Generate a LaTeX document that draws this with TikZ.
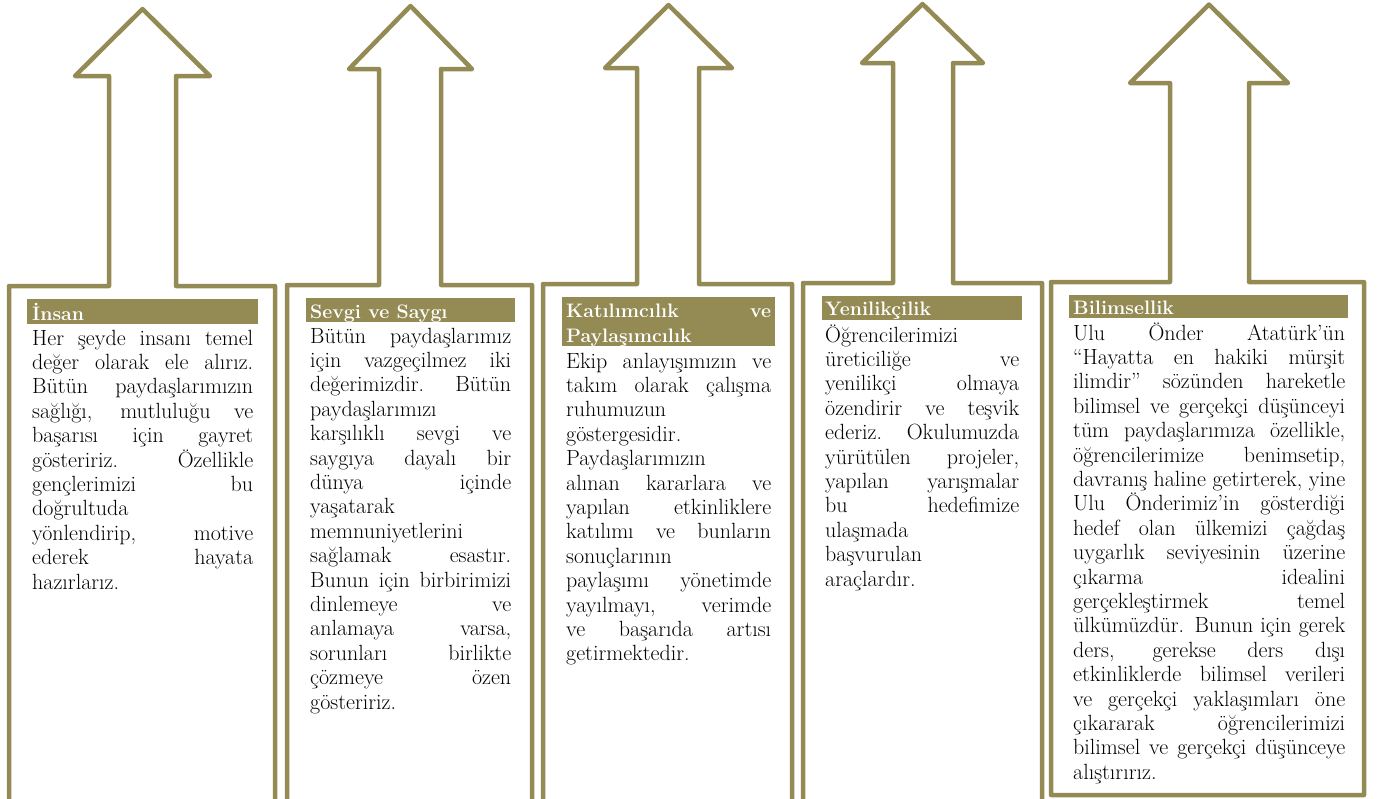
\documentclass[tikz,border=0pt]{standalone}
\usepackage{xcolor}
\definecolor{arrowolive}{HTML}{948A54}
\tikzset{
  arrowshape/.style={draw=arrowolive, line width=4.5pt, line join=round, line cap=round},
  titlebar/.style={fill=arrowolive},
  body/.style={anchor=base west, inner sep=0pt, text=black, font=\fontsize{22}{24.4}\selectfont},
  ttl/.style={anchor=base west, inner sep=0pt, text=white, font=\bfseries\fontsize{19.5}{25}\selectfont}
}
\newcommand\jpar[2]{\parbox[t]{#1}{\tolerance=10000\hbadness=10000\hyphenpenalty=10000\exhyphenpenalty=10000\parindent=0pt\relax #2}}
\begin{document}
\begin{tikzpicture}[x=1pt,y=-1pt]
\useasboundingbox (0,0) rectangle (1384,798);
\clip (0,0) rectangle (1384,798);
% arrows
\draw[arrowshape] (9,812) -- (9,286) -- (109,286) -- (109,76) -- (75,76) -- (142.5,9) -- (210,76) -- (176,76) -- (176,286) -- (275,286) -- (275,812);
\draw[arrowshape] (287,812) -- (287,285) -- (379,285) -- (379,69) -- (349,69) -- (410.5,6) -- (472,69) -- (441,69) -- (441,285) -- (532,285) -- (532,812);
\draw[arrowshape] (543,812) -- (543,284) -- (637,284) -- (637,68) -- (605,68) -- (668.5,5) -- (732,68) -- (699,68) -- (699,284) -- (792,284) -- (792,812);
\draw[arrowshape] (803,812) -- (803,283) -- (893,283) -- (893,63) -- (862,63) -- (922.5,4) -- (983,63) -- (953,63) -- (953,283) -- (1042,283) -- (1042,812);
\draw[arrowshape] (1051,795) -- (1051,282) -- (1170,282) -- (1170,83) -- (1130,83) -- (1209,4.5) -- (1288,83) -- (1249,83) -- (1249,282) -- (1364,282) -- (1364,795) -- cycle;
% title bars
\fill[titlebar] (27,299) rectangle (258,324);
\fill[titlebar] (306,298) rectangle (515,322);
\fill[titlebar] (562,297) rectangle (775,346);
\fill[titlebar] (822,296) rectangle (1022,320);
\fill[titlebar] (1069,295) rectangle (1348,318);
% titles
\node[ttl] (t1) at (32,320) {İnsan};
\node[ttl] (t2) at (310,318) {Sevgi ve Saygı};
\node[ttl] (t3) at (566,317) {\jpar{205pt}{\baselineskip=25pt Katılımcılık ve\linebreak Paylaşımcılık}};
\node[ttl] (t4) at (825,315) {Yenilikçilik};
\node[ttl] (t5) at (1073,314) {Bilimsellik};
% bodies
\node[body] (b1) at (32,345) {\jpar{221pt}{Her şeyde insanı temel\linebreak
değer olarak ele alırız.\linebreak
Bütün paydaşlarımızın\linebreak
sağlığı, mutluluğu ve\linebreak
başarısı için gayret\linebreak
gösteririz. Özellikle\linebreak
gençlerimizi bu\linebreak
doğrultuda\linebreak
yönlendirip, motive\linebreak
ederek hayata\linebreak
hazırlarız.}};
\node[body] (b2) at (310,343) {\jpar{201pt}{Bütün paydaşlarımız\linebreak
için vazgeçilmez iki\linebreak
değerimizdir. Bütün\linebreak
paydaşlarımızı\linebreak
karşılıklı sevgi ve\linebreak
saygıya dayalı bir\linebreak
dünya içinde\linebreak
yaşatarak\linebreak
memnuniyetlerini\linebreak
sağlamak esastır.\linebreak
Bunun için birbirimizi\linebreak
dinlemeye ve\linebreak
anlamaya varsa,\linebreak
sorunları birlikte\linebreak
çözmeye özen\linebreak
gösteririz.}};
\node[body] (b3) at (566,368) {\jpar{205pt}{Ekip anlayışımızın ve\linebreak
takım olarak çalışma\linebreak
ruhumuzun\linebreak
göstergesidir.\linebreak
Paydaşlarımızın\linebreak
alınan kararlara ve\linebreak
yapılan etkinliklere\linebreak
katılımı ve bunların\linebreak
sonuçlarının\linebreak
paylaşımı yönetimde\linebreak
yayılmayı, verimde\linebreak
ve başarıda artısı\linebreak
getirmektedir.}};
\node[body] (b4) at (825,342) {\jpar{194pt}{Öğrencilerimizi\linebreak
üreticiliğe ve\linebreak
yenilikçi olmaya\linebreak
özendirir ve teşvik\linebreak
ederiz. Okulumuzda\linebreak
yürütülen projeler,\linebreak
yapılan yarışmalar\linebreak
bu hedefimize\linebreak
ulaşmada\linebreak
başvurulan\linebreak
araçlardır.}};
\node[body] (b5) at (1073,340) {\jpar{272pt}{Ulu Önder Atatürk’ün\linebreak
“Hayatta en hakiki mürşit\linebreak
ilimdir” sözünden hareketle\linebreak
bilimsel ve gerçekçi düşünceyi\linebreak
tüm paydaşlarımıza özellikle,\linebreak
öğrencilerimize benimsetip,\linebreak
davranış haline getirterek, yine\linebreak
Ulu Önderimiz’in gösterdiği\linebreak
hedef olan ülkemizi çağdaş\linebreak
uygarlık seviyesinin üzerine\linebreak
çıkarma idealini\linebreak
gerçekleştirmek temel\linebreak
ülkümüzdür. Bunun için gerek\linebreak
ders, gerekse ders dışı\linebreak
etkinliklerde bilimsel verileri\linebreak
ve gerçekçi yaklaşımları öne\linebreak
çıkararak öğrencilerimizi\linebreak
bilimsel ve gerçekçi düşünceye\linebreak
alıştırırız.}};
\end{tikzpicture}
\end{document}
